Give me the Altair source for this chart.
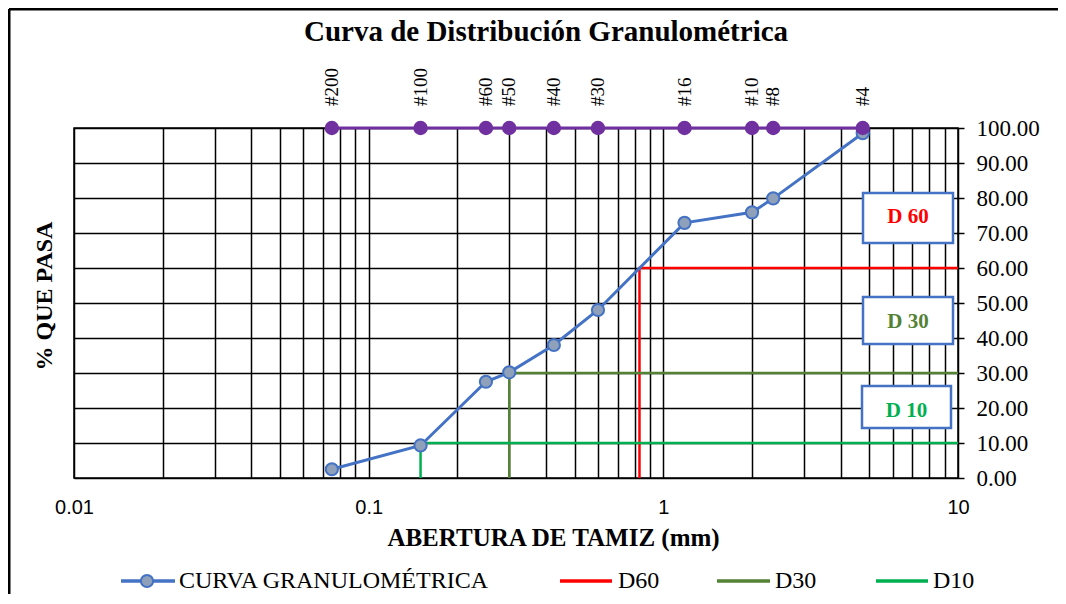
import altair as alt
import pandas as pd

# ---- data ----
sieves = ["#200", "#100", "#60", "#50", "#40", "#30", "#16", "#10", "#8", "#4"]
openings = [0.075, 0.15, 0.25, 0.30, 0.425, 0.60, 1.18, 2.00, 2.36, 4.75]
passing = [2.5, 9.3, 27.5, 30.2, 38.0, 48.0, 72.9, 75.9, 79.9, 98.5]
top_row = [100, 100, 100, 100, 100, 100, 100, 100, 100, 100]

d_names = ["D60", "D30", "D10"]
d_sizes = [0.83, 0.30, 0.15]
d_percents = [60, 30, 10]
d_colors = ["#FF0000", "#548235", "#00B050"]
x_max = 10

grid_x = [0.01, 0.02, 0.03, 0.04, 0.05, 0.06, 0.07, 0.08, 0.09,
          0.1, 0.2, 0.3, 0.4, 0.5, 0.6, 0.7, 0.8, 0.9,
          1, 2, 3, 4, 5, 6, 7, 8, 9, 10]
y_ticks = [0, 10, 20, 30, 40, 50, 60, 70, 80, 90, 100]

SERIF = "Liberation Serif"
SANS = "Liberation Sans"
BLUE = "#4472C4"
PURPLE = "#7030A0"

curve = pd.DataFrame({"sieve": sieves, "x": openings, "y": passing, "top": top_row})

rows = []
for n, d, p in zip(d_names, d_sizes, d_percents):
    rows += [{"name": n, "x": d, "y": 0, "i": 0},
             {"name": n, "x": d, "y": p, "i": 1},
             {"name": n, "x": x_max, "y": p, "i": 2}]
dlines = pd.DataFrame(rows)

one = pd.DataFrame({"a": [0]})

xscale = alt.Scale(type="log", domain=[0.01, 10], nice=False)
yscale = alt.Scale(domain=[0, 100], nice=False)

label_expr = ("datum.value == 0.01 ? '0.01' : datum.value == 0.1 ? '0.1' : "
              "datum.value == 1 ? '1' : datum.value == 10 ? '10' : ''")

x_axis = alt.Axis(values=grid_x, labelExpr=label_expr, title="ABERTURA DE TAMIZ (mm)",
                  grid=True, tickSize=0, labelPadding=19, labelFont=SANS,
                  labelFontSize=20, labelColor="black", labelOverlap=False,
                  labelFlush=False, domain=False,
                  titleFont=SERIF, titleFontSize=25, titleFontWeight="bold",
                  titleColor="black", titleX=479, titleY=59, titleAlign="center",
                  titleBaseline="middle")
y_axis = alt.Axis(orient="right", values=y_ticks, format=".2f", title=None,
                  grid=True, tickSize=6, tickColor="black", tickWidth=1.5,
                  labelPadding=12, labelFont=SERIF, labelFontSize=23,
                  labelColor="black", domain=False, labelOverlap=False,
                  labelFlush=False)


def X(field="x:Q"):
    return alt.X(field, scale=xscale, axis=x_axis)


def Y(field="y:Q"):
    return alt.Y(field, scale=yscale, axis=y_axis)


d_layer = alt.Chart(dlines).mark_line(strokeWidth=2.5).encode(
    x=X(), y=Y(),
    color=alt.Color("name:N", scale=alt.Scale(domain=d_names, range=d_colors), legend=None),
    order="i:Q",
    detail="name:N",
)

top_line = alt.Chart(curve).mark_line(color=PURPLE, strokeWidth=3).encode(
    x=X(), y=Y("top:Q"))
top_pts = alt.Chart(curve).mark_point(filled=True, color=PURPLE, size=210, opacity=1).encode(
    x=X(), y=Y("top:Q"))
top_txt = alt.Chart(curve).mark_text(angle=270, align="left", baseline="middle",
                                     font=SERIF, fontSize=19, color="black").encode(
    x=X(), y=alt.value(-22), text="sieve:N")

curve_line = alt.Chart(curve).mark_line(color=BLUE, strokeWidth=3).encode(
    x=X(), y=Y())
curve_pts = alt.Chart(curve).mark_point(filled=True, fill="#8EA0BA", stroke=BLUE,
                                        strokeWidth=2, size=150, opacity=1).encode(
    x=X(), y=Y())


def box(x1, x2, y1, y2, label, color, ty):
    r = alt.Chart(one).mark_rect(fill="white", stroke=BLUE, strokeWidth=2.5).encode(
        x=alt.value(x1), x2=alt.value(x2), y=alt.value(y1), y2=alt.value(y2))
    t = alt.Chart(one).mark_text(text=label, font=SERIF, fontSize=21, fontWeight="bold",
                                 color=color, align="center", baseline="middle").encode(
        x=alt.value((x1 + x2) / 2), y=alt.value(ty))
    return [r, t]


def text(s, x, y, size, weight="normal", angle=0, align="center"):
    return alt.Chart(one).mark_text(text=s, font=SERIF, fontSize=size, fontWeight=weight,
                                    color="black", angle=angle, align=align,
                                    baseline="middle").encode(x=alt.value(x), y=alt.value(y))


def legline(x1, x2, y, color):
    return alt.Chart(one).mark_rule(color=color, strokeWidth=3.5).encode(
        x=alt.value(x1), x2=alt.value(x2), y=alt.value(y))


layers = [d_layer, top_line, curve_line, curve_pts, top_pts, top_txt]
layers += box(789, 879, 65, 115, "D 60", d_colors[0], 89)
layers += box(789, 879, 169, 216, "D 30", d_colors[1], 194)
layers += box(788, 877, 258, 300, "D 10", d_colors[2], 283)

# titles
layers.append(text("Curva de Distribución Granulométrica", 472, -96, 29, "bold"))
layers.append(text("% QUE PASA", -29, 168, 24, "bold", angle=270))

# legend
LY = 453
LF = 24
layers.append(legline(47, 101, LY, BLUE))
layers.append(alt.Chart(one).mark_point(filled=True, fill="#8EA0BA", stroke=BLUE,
                                        strokeWidth=2, size=150, opacity=1).encode(
    x=alt.value(73), y=alt.value(LY)))
layers.append(text("CURVA GRANULOMÉTRICA", 105, LY, LF, align="left"))
layers.append(legline(486, 538, LY, d_colors[0]))
layers.append(text("D60", 544, LY, LF, align="left"))
layers.append(legline(643, 696, LY, d_colors[1]))
layers.append(text("D30", 701, LY, LF, align="left"))
layers.append(legline(802, 854, LY, d_colors[2]))
layers.append(text("D10", 859, LY, LF, align="left"))

# outer frame (top and left edges visible in reference)
layers.append(alt.Chart(one).mark_rule(color="black", strokeWidth=3).encode(
    x=alt.value(-65), x2=alt.value(990), y=alt.value(-119)))
layers.append(alt.Chart(one).mark_rule(color="black", strokeWidth=3).encode(
    x=alt.value(-65), y=alt.value(-119), y2=alt.value(480)))

chart = alt.layer(*layers).properties(
    width=884, height=350,
    autosize=alt.AutoSizeParams(type="none"),
    padding={"left": 66, "top": 120, "right": 100, "bottom": 116},
).configure_view(stroke="black", strokeWidth=1.5).configure_axis(
    gridColor="black", gridOpacity=1, gridWidth=1.5
)

chart.save("out.html", embed_options={"renderer": "svg", "actions": False})
